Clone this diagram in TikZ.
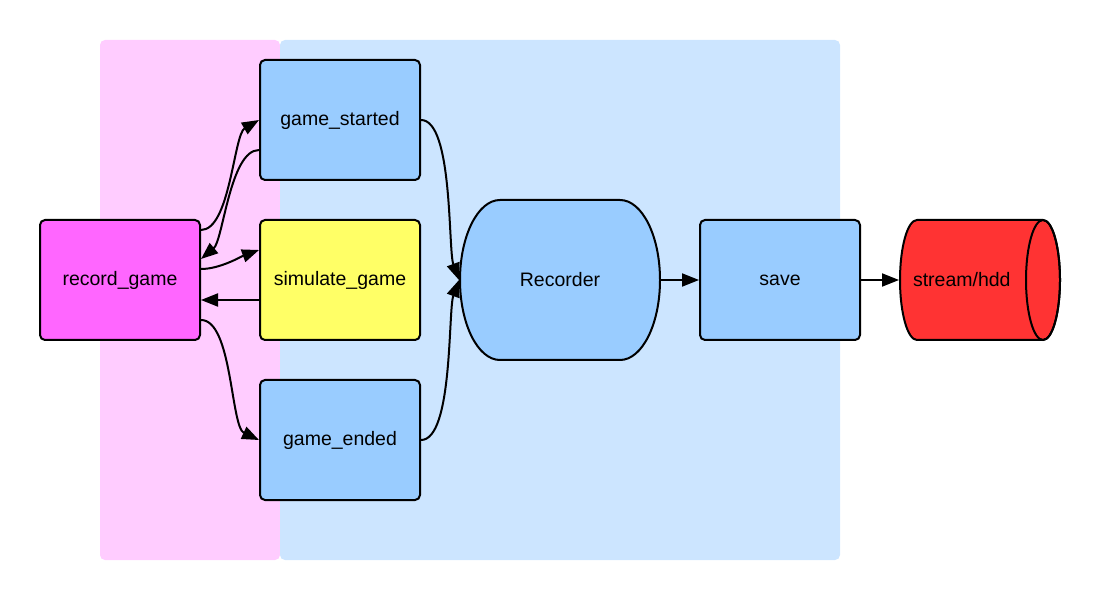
\documentclass[tikz,border=0pt]{standalone}
\usepackage{fontspec}
\setmainfont{Liberation Sans}
\usetikzlibrary{arrows.meta}
\definecolor{lanepink}{HTML}{FFCCFF}
\definecolor{laneblue}{HTML}{CCE5FF}
\definecolor{boxblue}{HTML}{99CCFF}
\definecolor{boxyellow}{HTML}{FFFF66}
\definecolor{boxpink}{HTML}{FF66FF}
\definecolor{diskred}{HTML}{FF3333}
\tikzset{
  box/.style={draw, line width=2pt, rounded corners=5pt, minimum width=160pt,
    minimum height=120pt, inner sep=0pt, font=\fontsize{19.5}{23}\selectfont},
  flow/.style={line width=2pt, -{Triangle[length=17pt,width=13pt]}},
}
\begin{document}
\begin{tikzpicture}[x=1pt,y=1pt]
            \useasboundingbox (0,0) rectangle (1100,600);
            % lanes
            \fill [lanepink, rounded corners=5pt] (100,40) rectangle (280,560);
            \fill [laneblue, rounded corners=5pt] (280,40) rectangle (840,560);
            \node [box, fill=boxpink] (rec) at (120,320) {record\_game};
            \node [box, fill=boxblue] (gs) at (340,480) {game\_started};
            \node [box, fill=boxyellow] (sim) at (340,320) {simulate\_game};
            \node [box, fill=boxblue] (ge) at (340,160) {game\_ended};
            \draw [line width=2pt, fill=boxblue] (500,400) -- (620,400)
                arc [start angle=90, end angle=-90, x radius=40, y radius=80] -- (500,240)
                arc [start angle=270, end angle=90, x radius=40, y radius=80] -- cycle;
            \node [box, draw=none, minimum width=200pt, minimum height=160pt] (recd) at (560,320) {Recorder};
            \node [box, fill=boxblue] (save) at (780,320) {save};
            % disk
            \draw [line width=2pt, fill=diskred] (917,380) -- (1043,380)
                arc [start angle=90, end angle=-90, x radius=17, y radius=60] -- (917,260)
                arc [start angle=270, end angle=90, x radius=17, y radius=60] -- cycle;
            \draw [line width=2pt] (1043,320) ellipse [x radius=17, y radius=60];
            \node [box, draw=none] (hdd) at (980,320) {\makebox[134pt][l]{stream/hdd}};
            % connectors
            \draw [flow] ([yshift=50pt]rec.east) to [out=0, in=210, looseness=0.6] (gs.west);
            \draw [flow] ([yshift=-30pt]gs.west) to [out=180, in=40, looseness=0.6] ([yshift=21pt]rec.east);
            \draw [flow] ([yshift=11pt]rec.east) to [out=0, in=200, looseness=0.8] ([yshift=30pt]sim.west);
            \draw [flow] ([yshift=-20pt]sim.west) -- ([yshift=-20pt]rec.east);
            \draw [flow] ([yshift=-40pt]rec.east) to [out=0, in=155, looseness=0.6] (ge.west);
            \draw [flow] (gs.east) to [out=0, in=110, looseness=0.5] (recd.west);
            \draw [flow] (ge.east) to [out=0, in=250, looseness=0.5] (recd.west);
            \draw [flow] (recd) -- (save);
            \draw [flow] (save) -- (hdd);
\end{tikzpicture}
\end{document}
